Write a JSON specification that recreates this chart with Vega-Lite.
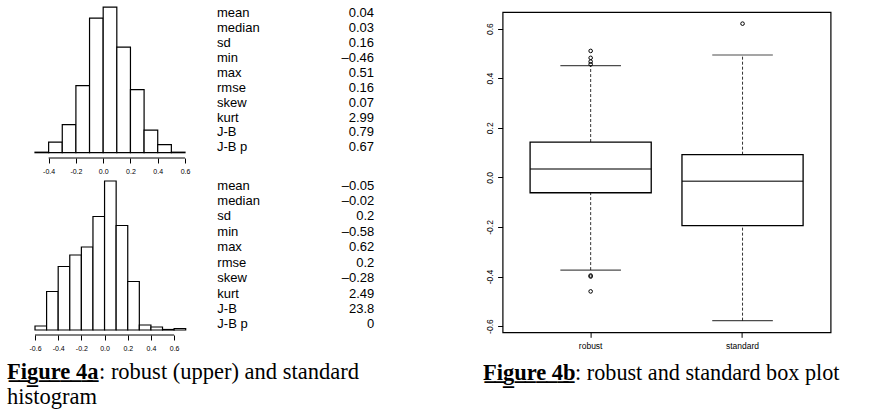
{
  "$schema": "https://vega.github.io/schema/vega-lite/v6.json",
  "background": "white",
  "padding": {"left": 7, "top": 6, "right": 0, "bottom": 0},
  "spacing": 107.6,
  "config": {
    "view": {"stroke": null},
    "font": "Liberation Sans",
    "axis": {"grid": false, "domain": false, "tickColor": "#000", "tickWidth": 1, "labelColor": "#000", "labelFont": "Liberation Sans", "title": null, "labelOverlap": false, "labelFlush": false}
  },
  "datasets": {
    "robustHist": [
      {"bin_start": -0.5, "bin_end": -0.4, "count": 1},
      {"bin_start": -0.4, "bin_end": -0.3, "count": 21},
      {"bin_start": -0.3, "bin_end": -0.2, "count": 56},
      {"bin_start": -0.2, "bin_end": -0.1, "count": 134},
      {"bin_start": -0.1, "bin_end": 0.0, "count": 269},
      {"bin_start": 0.0, "bin_end": 0.1, "count": 291},
      {"bin_start": 0.1, "bin_end": 0.2, "count": 211},
      {"bin_start": 0.2, "bin_end": 0.3, "count": 126},
      {"bin_start": 0.3, "bin_end": 0.4, "count": 45},
      {"bin_start": 0.4, "bin_end": 0.5, "count": 16},
      {"bin_start": 0.5, "bin_end": 0.6, "count": 1}
    ],
    "standardHist": [
      {"bin_start": -0.6, "bin_end": -0.5, "count": 8},
      {"bin_start": -0.5, "bin_end": -0.4, "count": 77},
      {"bin_start": -0.4, "bin_end": -0.3, "count": 127},
      {"bin_start": -0.3, "bin_end": -0.2, "count": 150},
      {"bin_start": -0.2, "bin_end": -0.1, "count": 166},
      {"bin_start": -0.1, "bin_end": 0.0, "count": 227},
      {"bin_start": 0.0, "bin_end": 0.1, "count": 298},
      {"bin_start": 0.1, "bin_end": 0.2, "count": 209},
      {"bin_start": 0.2, "bin_end": 0.3, "count": 97},
      {"bin_start": 0.3, "bin_end": 0.4, "count": 10},
      {"bin_start": 0.4, "bin_end": 0.5, "count": 6},
      {"bin_start": 0.5, "bin_end": 0.6, "count": 1},
      {"bin_start": 0.6, "bin_end": 0.7, "count": 3}
    ],
    "stats": [
      {"table": "robust", "stat": "mean", "value": "0.04"},
      {"table": "robust", "stat": "median", "value": "0.03"},
      {"table": "robust", "stat": "sd", "value": "0.16"},
      {"table": "robust", "stat": "min", "value": "–0.46"},
      {"table": "robust", "stat": "max", "value": "0.51"},
      {"table": "robust", "stat": "rmse", "value": "0.16"},
      {"table": "robust", "stat": "skew", "value": "0.07"},
      {"table": "robust", "stat": "kurt", "value": "2.99"},
      {"table": "robust", "stat": "J-B", "value": "0.79"},
      {"table": "robust", "stat": "J-B p", "value": "0.67"},
      {"table": "standard", "stat": "mean", "value": "–0.05"},
      {"table": "standard", "stat": "median", "value": "–0.02"},
      {"table": "standard", "stat": "sd", "value": "0.2"},
      {"table": "standard", "stat": "min", "value": "–0.58"},
      {"table": "standard", "stat": "max", "value": "0.62"},
      {"table": "standard", "stat": "rmse", "value": "0.2"},
      {"table": "standard", "stat": "skew", "value": "–0.28"},
      {"table": "standard", "stat": "kurt", "value": "2.49"},
      {"table": "standard", "stat": "J-B", "value": "23.8"},
      {"table": "standard", "stat": "J-B p", "value": "0"}
    ],
    "box": [
      {"group": "robust", "lower": -0.374, "q1": -0.062, "median": 0.034, "q3": 0.1425, "upper": 0.451},
      {"group": "standard", "lower": -0.578, "q1": -0.195, "median": -0.016, "q3": 0.0915, "upper": 0.4936}
    ],
    "outliers": [
      {"group": "robust", "value": 0.51},
      {"group": "robust", "value": 0.482},
      {"group": "robust", "value": 0.467},
      {"group": "robust", "value": 0.456},
      {"group": "robust", "value": -0.396},
      {"group": "robust", "value": -0.4},
      {"group": "robust", "value": -0.46},
      {"group": "standard", "value": 0.62}
    ],
    "axisLines": [
      {"hist": "robust", "from": -0.4, "to": 0.6},
      {"hist": "standard", "from": -0.6, "to": 0.6}
    ],
    "captions": [
      {"fig": "4a", "line": 1, "part": "label", "text": "F\u0332i\u0332g\u0332u\u0332r\u0332e\u0332 \u03324\u0332a\u0332"},
      {"fig": "4a", "line": 1, "part": "rest", "text": ": robust (upper) and standard"},
      {"fig": "4a", "line": 2, "part": "cont", "text": "histogram"},
      {"fig": "4b", "line": 1, "part": "label", "text": "F\u0332i\u0332g\u0332u\u0332r\u0332e\u0332 \u03324\u0332b\u0332"},
      {"fig": "4b", "line": 1, "part": "rest", "text": ": robust and standard box plot"}
    ]
  },
  "hconcat": [
    {
      "vconcat": [
        {
          "hconcat": [
            {
              "width": 178, "height": 151,
              "resolve": {"axis": {"x": "independent", "y": "independent"}},
              "layer": [
                {
                  "data": {"name": "robustHist"},
                  "mark": {"type": "bar", "fill": "white", "stroke": "#000", "strokeWidth": 1.2},
                  "encoding": {
                    "x": {"field": "bin_start", "type": "quantitative", "scale": {"domain": [-0.7053, 0.6], "nice": false, "zero": false},
                      "axis": {"values": [-0.4, -0.2, 0, 0.2, 0.4, 0.6], "labelExpr": "(datum.value < -1e-9 ? '-' : '') + format(abs(datum.value), '.1f')", "tickSize": 5, "labelFontSize": 7, "labelPadding": 4, "labelOverlap": false, "labelFlush": false, "labelBound": false, "labelSeparation": 0}},
                    "x2": {"field": "bin_end"},
                    "y": {"field": "count", "type": "quantitative", "scale": {"domain": [-10.6, 291.4], "nice": false, "zero": false}, "axis": null},
                    "y2": {"datum": 0}
                  }
                },
                {
                  "data": {"name": "axisLines"},
                  "transform": [{"filter": "datum.hist === 'robust'"}],
                  "mark": {"type": "rule", "color": "#000", "strokeWidth": 1},
                  "encoding": {
                    "x": {"field": "from", "type": "quantitative", "axis": null},
                    "x2": {"field": "to"},
                    "y": {"datum": -10.6, "type": "quantitative", "axis": null}
                  }
                }
              ]
            },
            {
              "width": 157, "height": 146.6,
              "data": {"name": "stats"},
              "transform": [{"filter": "datum.table === 'robust'"}],
              "layer": [
                {
                  "mark": {"type": "text", "align": "left", "baseline": "middle", "fontSize": 13, "font": "Liberation Sans", "color": "#000"},
                  "encoding": {
                    "x": {"datum": "label", "type": "nominal", "scale": {"type": "point", "domain": ["label", "value"], "padding": 0}, "axis": null},
                    "y": {"field": "stat", "type": "ordinal", "sort": null, "scale": {"type": "point", "padding": 0.42}, "axis": null},
                    "text": {"field": "stat"}
                  }
                },
                {
                  "mark": {"type": "text", "align": "right", "baseline": "middle", "fontSize": 13, "font": "Liberation Sans", "color": "#000"},
                  "encoding": {
                    "x": {"datum": "value", "type": "nominal"},
                    "y": {"field": "stat", "type": "ordinal", "sort": null},
                    "text": {"field": "value"}
                  }
                }
              ]
            }
          ],
          "spacing": 32,
          "bounds": "flush"
        },
        {
          "hconcat": [
            {
              "width": 178.7, "height": 154,
              "resolve": {"axis": {"x": "independent", "y": "independent"}},
              "layer": [
                {
                  "data": {"name": "standardHist"},
                  "mark": {"type": "bar", "fill": "white", "stroke": "#000", "strokeWidth": 1.2},
                  "encoding": {
                    "x": {"field": "bin_start", "type": "quantitative", "scale": {"domain": [-0.8416, 0.7], "nice": false, "zero": false},
                      "axis": {"values": [-0.6, -0.4, -0.2, 0, 0.2, 0.4, 0.6], "labelExpr": "(datum.value < -1e-9 ? '-' : '') + format(abs(datum.value), '.1f')", "tickSize": 5, "labelFontSize": 7, "labelPadding": 4, "labelOverlap": false, "labelFlush": false, "labelBound": false, "labelSeparation": 0}},
                    "x2": {"field": "bin_end"},
                    "y": {"field": "count", "type": "quantitative", "scale": {"domain": [-10, 298], "nice": false, "zero": false}, "axis": null},
                    "y2": {"datum": 0}
                  }
                },
                {
                  "data": {"name": "axisLines"},
                  "transform": [{"filter": "datum.hist === 'standard'"}],
                  "mark": {"type": "rule", "color": "#000", "strokeWidth": 1},
                  "encoding": {
                    "x": {"field": "from", "type": "quantitative", "axis": null},
                    "x2": {"field": "to"},
                    "y": {"datum": -10, "type": "quantitative", "axis": null}
                  }
                }
              ]
            },
            {
              "width": 157, "height": 148,
              "data": {"name": "stats"},
              "transform": [{"filter": "datum.table === 'standard'"}],
              "layer": [
                {
                  "mark": {"type": "text", "align": "left", "baseline": "middle", "fontSize": 13, "font": "Liberation Sans", "color": "#000"},
                  "encoding": {
                    "x": {"datum": "label", "type": "nominal", "scale": {"type": "point", "domain": ["label", "value"], "padding": 0}, "axis": null},
                    "y": {"field": "stat", "type": "ordinal", "sort": null, "scale": {"type": "point", "padding": 0.305}, "axis": null},
                    "text": {"field": "stat"}
                  }
                },
                {
                  "mark": {"type": "text", "align": "right", "baseline": "middle", "fontSize": 13, "font": "Liberation Sans", "color": "#000"},
                  "encoding": {
                    "x": {"datum": "value", "type": "nominal"},
                    "y": {"field": "stat", "type": "ordinal", "sort": null},
                    "text": {"field": "value"}
                  }
                }
              ]
            }
          ],
          "spacing": 31.3,
          "bounds": "flush"
        },
        {
          "width": 367, "height": 56.4,
          "data": {"name": "captions"},
          "transform": [{"filter": "datum.fig === '4a'"}],
          "encoding": {
            "x": {"datum": 0, "type": "quantitative", "scale": {"domain": [0, 1]}, "axis": null},
            "y": {"field": "line", "type": "ordinal", "scale": {"type": "point", "domain": [1, 2], "padding": 0.628}, "axis": null},
            "text": {"field": "text"}
          },
          "layer": [
            {"transform": [{"filter": "datum.part === 'label'"}], "mark": {"type": "text", "align": "left", "baseline": "middle", "font": "Liberation Serif", "fontSize": 22.5, "fontWeight": "bold", "color": "#000"}},
            {"transform": [{"filter": "datum.part === 'rest'"}], "mark": {"type": "text", "align": "left", "baseline": "middle", "font": "Liberation Serif", "fontSize": 22.5, "color": "#000", "dx": 92}},
            {"transform": [{"filter": "datum.part === 'cont'"}], "mark": {"type": "text", "align": "left", "baseline": "middle", "font": "Liberation Serif", "fontSize": 22.5, "color": "#000"}}
          ]
        }
      ],
      "spacing": 5
    },
    {
      "vconcat": [
        {
          "width": 328, "height": 4.7,
          "data": {"values": [{"blank": ""}]},
          "mark": {"type": "text", "fontSize": 0.5},
          "encoding": {"text": {"field": "blank"}}
        },
        {
          "width": 328, "height": 320.3,
          "view": {"stroke": "#000", "strokeWidth": 1.2},
          "layer": [
            {
              "data": {"name": "box"},
              "mark": {"type": "rule", "color": "#333", "strokeDash": [3, 2], "strokeWidth": 1},
              "encoding": {
                "x": {"field": "group", "type": "nominal", "scale": {"type": "band", "domain": ["robust", "standard"], "paddingInner": 0.2024, "paddingOuter": 0.181},
                  "axis": {"labelAngle": 0, "labelFontSize": 8.5, "tickSize": 5, "labelPadding": 4}},
                "y": {"field": "lower", "type": "quantitative", "scale": {"domain": [-0.625, 0.667], "nice": false, "zero": false},
                  "axis": {"values": [-0.6, -0.4, -0.2, 0, 0.2, 0.4, 0.6], "labelExpr": "(datum.value < -1e-9 ? '-' : '') + format(abs(datum.value), '.1f')", "labelAngle": -90, "labelAlign": "center", "labelBaseline": "bottom", "labelFontSize": 8.5, "tickSize": 5, "labelPadding": 3, "labelOverlap": false}},
                "y2": {"field": "q1"}
              }
            },
            {
              "data": {"name": "box"},
              "mark": {"type": "rule", "color": "#333", "strokeDash": [3, 2], "strokeWidth": 1},
              "encoding": {
                "x": {"field": "group", "type": "nominal"},
                "y": {"field": "q3", "type": "quantitative"},
                "y2": {"field": "upper"}
              }
            },
            {
              "data": {"name": "box"},
              "mark": {"type": "bar", "fill": "white", "stroke": "#000", "strokeWidth": 1.3},
              "encoding": {
                "x": {"field": "group", "type": "nominal"},
                "y": {"field": "q1", "type": "quantitative"},
                "y2": {"field": "q3"}
              }
            },
            {
              "data": {"name": "box"},
              "mark": {"type": "tick", "color": "#000", "size": 121, "thickness": 1.6, "orient": "horizontal"},
              "encoding": {
                "x": {"field": "group", "type": "nominal"},
                "y": {"field": "median", "type": "quantitative"}
              }
            },
            {
              "data": {"name": "box"},
              "mark": {"type": "tick", "color": "#000", "size": 60.6, "thickness": 1.2, "orient": "horizontal"},
              "encoding": {
                "x": {"field": "group", "type": "nominal"},
                "y": {"field": "lower", "type": "quantitative"}
              }
            },
            {
              "data": {"name": "box"},
              "mark": {"type": "tick", "color": "#000", "size": 60.6, "thickness": 1.2, "orient": "horizontal"},
              "encoding": {
                "x": {"field": "group", "type": "nominal"},
                "y": {"field": "upper", "type": "quantitative"}
              }
            },
            {
              "data": {"name": "outliers"},
              "mark": {"type": "point", "shape": "circle", "filled": false, "color": "#000", "size": 13, "strokeWidth": 1, "opacity": 1},
              "encoding": {
                "x": {"field": "group", "type": "nominal"},
                "y": {"field": "value", "type": "quantitative"}
              }
            }
          ]
        },
        {
          "width": 328, "height": 80,
          "data": {"name": "captions"},
          "transform": [{"filter": "datum.fig === '4b'"}],
          "encoding": {
            "x": {"datum": 0, "type": "quantitative", "scale": {"domain": [0, 1]}, "axis": null},
            "y": {"field": "line", "type": "ordinal", "scale": {"type": "point", "domain": [1], "padding": 0.5}, "axis": null},
            "text": {"field": "text"}
          },
          "layer": [
            {"transform": [{"filter": "datum.part === 'label'"}], "mark": {"type": "text", "align": "left", "baseline": "middle", "font": "Liberation Serif", "fontSize": 22.5, "fontWeight": "bold", "color": "#000", "dx": -19.7}},
            {"transform": [{"filter": "datum.part === 'rest'"}], "mark": {"type": "text", "align": "left", "baseline": "middle", "font": "Liberation Serif", "fontSize": 22.2, "color": "#000", "dx": 72.5}}
          ]
        }
      ],
      "spacing": 0,
      "bounds": "flush"
    }
  ]
}
